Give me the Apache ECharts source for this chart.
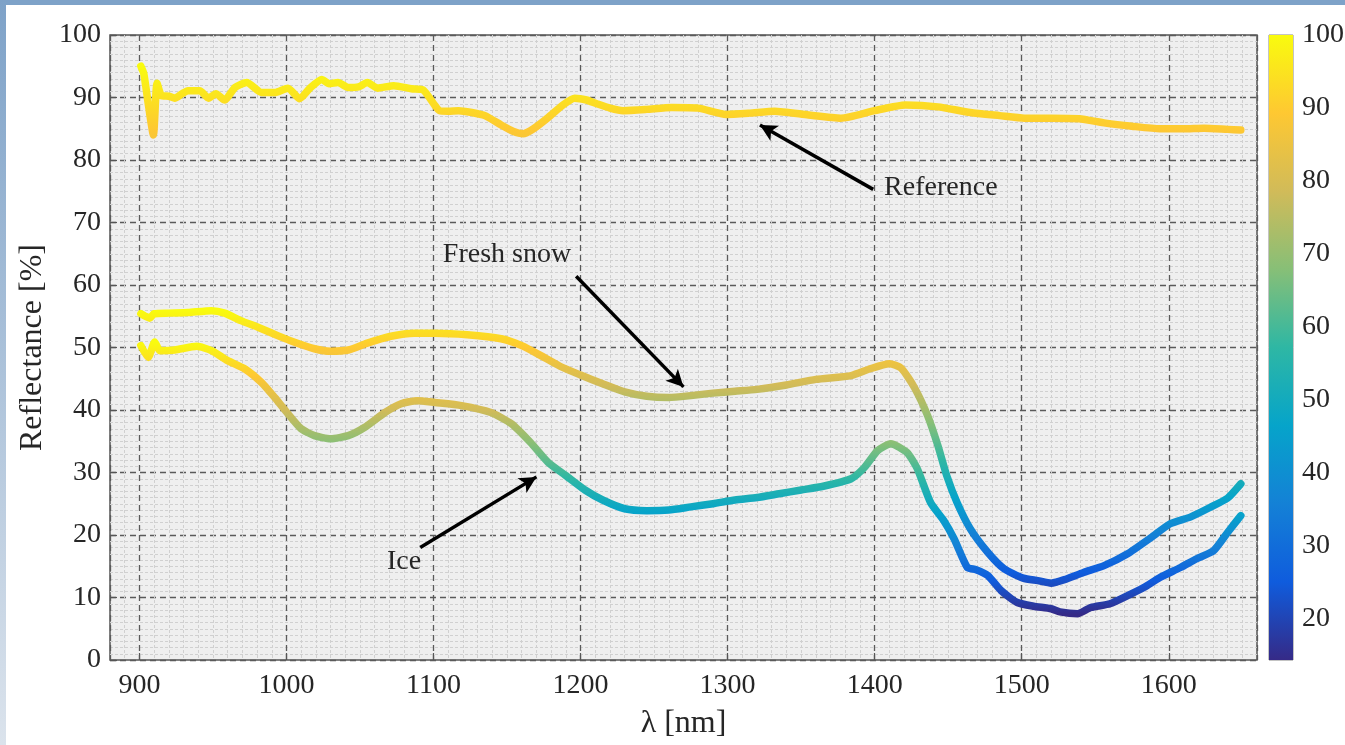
<!DOCTYPE html>
<html>
<head>
<meta charset="utf-8">
<script src="https://cdn.jsdelivr.net/npm/echarts/dist/echarts.min.js"></script>
<style>
html,body{margin:0;padding:0;background:#fff;}
#chart{width:1345px;height:745px;}
</style>
</head>
<body>
<div id="chart"></div>
<script>
// ---- data ----
const refX = [901, 903, 906, 909.5, 912, 915, 920, 924, 929, 933, 941, 947, 952, 958, 965, 973, 983, 992, 1001, 1009, 1016, 1024, 1029, 1035, 1042, 1049, 1055, 1062, 1073, 1085, 1093, 1101, 1104, 1110, 1117, 1126, 1135, 1146, 1154, 1161, 1168, 1178, 1188, 1196, 1204, 1211, 1220, 1229, 1245, 1262, 1280, 1299, 1315, 1332, 1355, 1377, 1400, 1421, 1443, 1465, 1485, 1502, 1520, 1539, 1557, 1575, 1594, 1610, 1624, 1640, 1649];
const refY = [95.0, 93.8, 89.0, 84.0, 92.3, 90.3, 90.2, 89.9, 90.6, 91.1, 91.1, 89.9, 90.6, 89.6, 91.6, 92.4, 90.8, 90.8, 91.5, 89.8, 91.5, 92.9, 92.2, 92.4, 91.6, 91.7, 92.4, 91.5, 91.9, 91.4, 91.2, 88.7, 87.9, 87.8, 87.9, 87.6, 87.1, 85.6, 84.6, 84.2, 85.0, 86.8, 88.8, 89.9, 89.6, 89.0, 88.3, 87.9, 88.1, 88.4, 88.3, 87.3, 87.5, 87.8, 87.2, 86.7, 87.9, 88.8, 88.5, 87.6, 87.1, 86.7, 86.7, 86.6, 85.9, 85.4, 85.0, 85.0, 85.1, 84.9, 84.8];

const snowX = [901, 904, 907, 910, 920, 933, 949, 958, 969, 981, 994, 1006, 1019, 1030, 1042, 1055, 1071, 1087, 1101, 1123, 1146, 1160, 1173, 1186, 1200, 1215, 1230, 1245, 1260, 1275, 1290, 1305, 1320, 1340, 1360, 1384, 1397, 1410, 1418, 1427, 1436, 1443, 1449, 1456, 1465, 1477, 1488, 1501, 1511, 1520, 1529, 1542, 1556, 1572, 1588, 1601, 1615, 1628, 1640, 1649];
const snowY = [55.4, 55.0, 54.7, 55.4, 55.5, 55.6, 55.9, 55.5, 54.3, 53.2, 51.9, 50.8, 49.8, 49.4, 49.6, 50.7, 51.8, 52.3, 52.3, 52.05, 51.4, 50.3, 48.7, 47.0, 45.6, 44.2, 42.9, 42.2, 42.0, 42.3, 42.7, 43.0, 43.3, 44.0, 44.9, 45.5, 46.6, 47.4, 46.7, 43.6, 39.1, 34.3, 29.5, 25.2, 21.0, 17.2, 14.6, 13.1, 12.7, 12.3, 12.85, 14.0, 15.1, 17.0, 19.6, 21.8, 22.9, 24.4, 25.9, 28.2];

const iceX = [901, 906, 910.4, 914, 924, 939, 949, 960, 971.5, 983, 992, 1001, 1010, 1019, 1030, 1042, 1053, 1067, 1078, 1089, 1101, 1119, 1139, 1153, 1166, 1178, 1190, 1203, 1215, 1230, 1245, 1260, 1275, 1290, 1305, 1320, 1335, 1350, 1365, 1384, 1393, 1402, 1411, 1422, 1429, 1438, 1447, 1454, 1463, 1469, 1477, 1486, 1497, 1508, 1520, 1526, 1538, 1547, 1560, 1572, 1583, 1594, 1608, 1619, 1630.5, 1640, 1649];
const iceY = [50.3, 48.4, 50.9, 49.5, 49.6, 50.2, 49.5, 47.9, 46.6, 44.4, 42.0, 39.4, 37.0, 35.9, 35.4, 35.9, 37.2, 39.6, 41.0, 41.5, 41.2, 40.7, 39.6, 37.8, 34.8, 31.6, 29.5, 27.2, 25.6, 24.2, 23.9, 24.0, 24.5, 25.0, 25.6, 26.0, 26.6, 27.2, 27.8, 29.0, 30.8, 33.5, 34.6, 33.2, 30.6, 25.2, 22.3, 19.4, 14.8, 14.45, 13.5, 11.1, 9.2, 8.6, 8.2, 7.7, 7.4, 8.4, 9.0, 10.3, 11.6, 13.2, 14.8, 16.2, 17.5, 20.4, 23.1];

const colorbarMin = 14.3;
const colorbarMax = 100;
const colorbarTicks = [20, 30, 40, 50, 60, 70, 80, 90, 100];

// annotations
const annoText = ['Reference', 'Fresh snow', 'Ice'];
const annoTextPos = [[1445, 75.6], [1150, 64.8], [1080, 15.8]];
const annoArrowFrom = [[1399, 75.3], [1197, 61.4], [1091, 18.0]];
const annoArrowTo = [[1322, 85.6], [1270, 43.7], [1170, 29.3]];

// ---- styling ----
const FONT = "'Liberation Serif', 'DejaVu Serif', serif";
const TXT = '#262626';
const PARULA = ['#352A87', '#0F5CDD', '#1481D6', '#06A4CA', '#2EB7A4', '#87BF77', '#D1BB59', '#FEC832', '#F9FB0E'];

function zip(xs, ys) { return xs.map((x, i) => [x, ys[i]]); }
function vm(idx, ys) {
  const M = Math.max.apply(null, ys);
  return { type: 'continuous', show: false, seriesIndex: idx, dimension: 1,
           min: colorbarMin * M / 100, max: M, inRange: { color: PARULA } };
}
function lineSeries(name, xs, ys) {
  return { name: name, type: 'line', data: zip(xs, ys), showSymbol: false, symbol: 'none',
           smooth: 0.2, silent: true, z: 3,
           lineStyle: { width: 7.5, cap: 'round', join: 'round' } };
}

const chart = echarts.init(document.getElementById('chart'), null, { renderer: 'canvas' });
const option = {
  animation: false,
  backgroundColor: '#ffffff',
  textStyle: { fontFamily: FONT },
  graphic: [
    { type: 'rect', shape: { x: 0, y: 0, width: 1345, height: 5 }, style: { fill: '#7ea2c8' }, silent: true },
    { type: 'rect', shape: { x: 0, y: 0, width: 6, height: 745 },
      style: { fill: { type: 'linear', x: 0, y: 0, x2: 0, y2: 1,
        colorStops: [{ offset: 0, color: '#7ea2c8' }, { offset: 1, color: '#dbe3ec' }] } }, silent: true }
  ],
  grid: [
    { left: 110, top: 35, width: 1147, height: 625, show: true, backgroundColor: '#efefef',
      borderColor: '#555', borderWidth: 1.5, outerBoundsMode: 'none', containLabel: false },
    { left: 1269, top: 35, width: 24, height: 625, show: true, backgroundColor: 'transparent',
      borderColor: '#888', borderWidth: 1, outerBoundsMode: 'none', containLabel: false }
  ],
  xAxis: [
    { type: 'value', gridIndex: 0, min: 880, max: 1660, splitNumber: 8, minInterval: 100, maxInterval: 100,
      name: 'λ [nm]', nameLocation: 'middle', nameGap: 48,
      nameTextStyle: { fontFamily: FONT, fontSize: 32, color: TXT },
      axisLine: { show: false },
      axisTick: { show: true, inside: true, length: 7, lineStyle: { color: '#555', width: 1.2 } },
      axisLabel: { fontFamily: FONT, fontSize: 28, color: TXT, margin: 12, showMinLabel: false, showMaxLabel: false,
        formatter: function (v) { return String(v); } },
      splitLine: { show: true, lineStyle: { color: '#5a5a5a', width: 1.3, type: [6, 4] } },
      minorTick: { show: false, splitNumber: 10 },
      minorSplitLine: { show: true, lineStyle: { color: '#d0d0d0', width: 1, type: [3, 2] } } },
    { type: 'category', gridIndex: 1, data: ['cb'], show: false, boundaryGap: true }
  ],
  yAxis: [
    { type: 'value', gridIndex: 0, min: 0, max: 100, interval: 10,
      name: 'Reflectance [%]', nameLocation: 'middle', nameGap: 58, nameRotate: 90,
      nameTextStyle: { fontFamily: FONT, fontSize: 32, color: TXT },
      axisLine: { show: false },
      axisTick: { show: true, inside: true, length: 7, lineStyle: { color: '#555', width: 1.2 } },
      axisLabel: { fontFamily: FONT, fontSize: 28, color: TXT, margin: 9 },
      splitLine: { show: true, lineStyle: { color: '#5a5a5a', width: 1.3, type: [6, 4] } },
      minorTick: { show: false, splitNumber: 10 },
      minorSplitLine: { show: true, lineStyle: { color: '#d0d0d0', width: 1, type: [3, 2] } } },
    { type: 'value', gridIndex: 1, min: colorbarMin, max: colorbarMax, position: 'right',
      axisLine: { show: false },
      axisTick: { show: true, inside: true, length: 5, customValues: colorbarTicks, lineStyle: { color: '#777', width: 1 } },
      axisLabel: { fontFamily: FONT, fontSize: 28, color: TXT, margin: 9, customValues: colorbarTicks },
      splitLine: { show: false } }
  ],
  visualMap: [vm(0, refY), vm(1, snowY), vm(2, iceY)],
  series: [
    lineSeries('Reference', refX, refY),
    lineSeries('Fresh snow', snowX, snowY),
    lineSeries('Ice', iceX, iceY),
    { name: 'annotations', type: 'line', xAxisIndex: 0, yAxisIndex: 0, data: [], silent: true, z: 5,
      markLine: { silent: true, animation: false, symbol: ['none', 'arrow'], symbolSize: [13, 17],
        lineStyle: { color: '#000', width: 3.5, type: 'solid' }, label: { show: false },
        data: annoArrowFrom.map((f, i) => [{ coord: f }, { coord: annoArrowTo[i] }]) },
      markPoint: { silent: true, animation: false, symbol: 'rect', symbolSize: 1,
        itemStyle: { color: 'rgba(0,0,0,0)' },
        label: { show: true, position: 'inside', formatter: '{b}', fontFamily: FONT, fontSize: 28, color: TXT },
        data: annoText.map((t, i) => ({ name: t, coord: annoTextPos[i] })) } },
    { name: 'colorbar', type: 'bar', xAxisIndex: 1, yAxisIndex: 1, data: [colorbarMax], barWidth: '100%',
      silent: true,
      itemStyle: { color: { type: 'linear', x: 0, y: 1, x2: 0, y2: 0,
        colorStops: PARULA.map((c, i) => ({ offset: i / (PARULA.length - 1), color: c })) } } }
  ]
};
chart.setOption(option);
</script>
</body>
</html>
